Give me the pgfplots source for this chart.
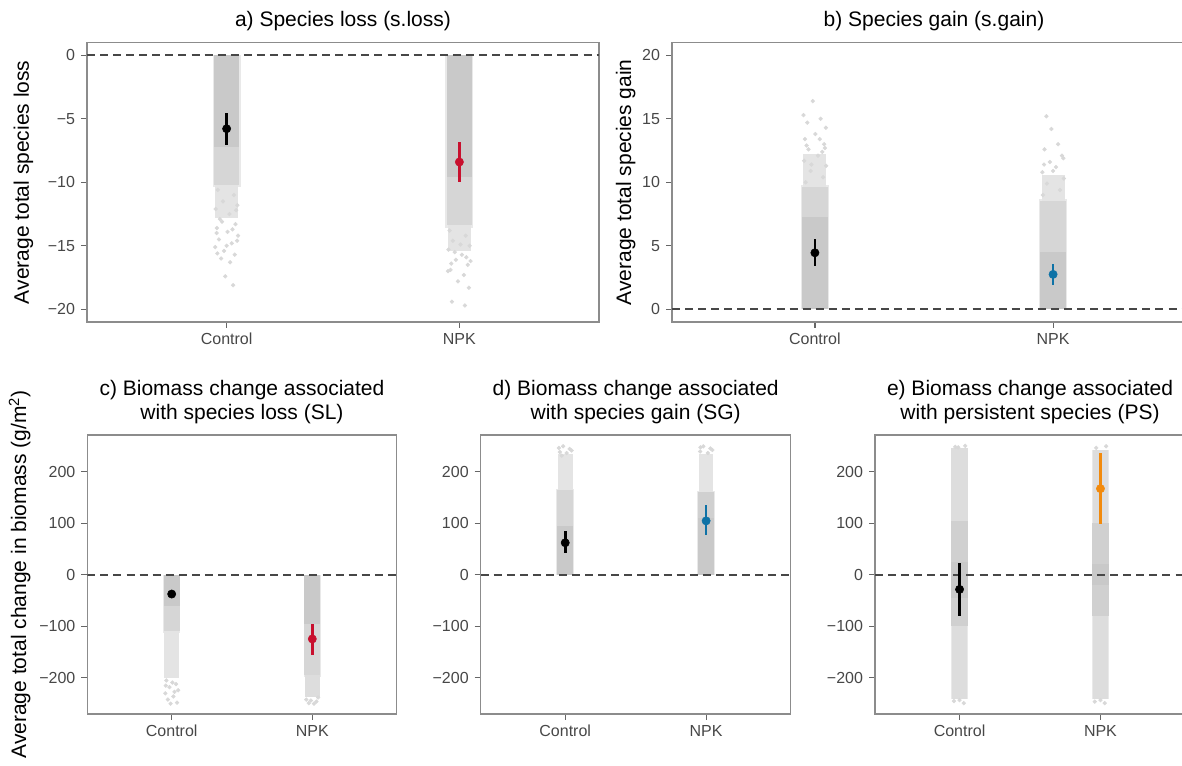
\documentclass[border=0pt]{standalone}
\usepackage{fontspec}
\setmainfont{Liberation Sans}
\usepackage{pgfplots}
\pgfplotsset{compat=1.18}
\definecolor{gA}{HTML}{C9C9C9}
\definecolor{gB}{HTML}{D6D6D6}
\definecolor{gC}{HTML}{E4E4E4}
\definecolor{gD}{HTML}{D0D0D0}
\definecolor{gE}{HTML}{DDDDDD}
\definecolor{gF}{HTML}{E9E9E9}
\definecolor{ptc}{HTML}{D8D8D8}
\definecolor{cred}{HTML}{C8102E}
\definecolor{cblue}{HTML}{0E72A6}
\definecolor{corange}{HTML}{F28A0C}
\newcommand{\tickfont}{\fontsize{12}{14}\selectfont}
\newcommand{\labfont}{\fontsize{15.75}{17.8}\selectfont}
\newcommand{\band}[5]{\addplot[draw=none, fill=#5, forget plot] coordinates {(#1,#3) (#2,#3) (#2,#4) (#1,#4)};}
\pgfplotsset{
  panel/.style={
    scale only axis, anchor=south west,
    xmin=0.4, xmax=2.6, xtick={1,2}, xticklabels={Control,NPK},
    xtick pos=bottom, ytick pos=left, tick align=outside,
    major tick length=4.5pt,
    axis line style={draw=black!45, line width=0.9pt},
    tick style={draw=black!60, line width=0.9pt},
    tick label style={font=\tickfont, text=black!72, inner sep=0pt},
    xticklabel shift=3.75pt, yticklabel shift=4.3pt,
    label style={font=\labfont},
    ylabel style={anchor=base},
    title style={font=\labfont, align=center, at={(axis description cs:0.5,1)}, anchor=south, inner sep=0pt, yshift=2.5pt},
  },
  jit/.style={only marks, mark=*, mark size=1.4pt, color=ptc, forget plot},
  zero/.style={draw=black!72, line width=1.3pt, dash pattern=on 6pt off 3.8pt, forget plot},
  est/.style={only marks, mark=*, mark size=3.1pt, color=#1, mark options={fill=#1, draw=#1},
    error bars/.cd, y dir=both, y explicit, error mark=none,
    error bar style={line width=2pt, color=#1}},
}
\begin{document}
\begin{tikzpicture}
% ---------- a) ----------
\begin{axis}[panel, at={(65.25pt,333pt)}, width=384pt, height=209.5pt,
  ymin=-21, ymax=1, ytick={-20,-15,-10,-5,0}, yticklabels={−20,−15,−10,−5,0},
  ylabel={Average total species loss}, ylabel style={at={(axis description cs:-0.1133,0.5)}},
  title={a) Species loss (s.loss)}]
\band{0.940}{1.060}{0}{-10.4}{gF}
\band{0.945}{1.055}{0}{-7.2}{gA}
\band{0.946}{1.054}{-7.2}{-10.2}{gB}
\band{0.952}{1.048}{-10.2}{-12.8}{gC}
\band{1.940}{2.060}{0}{-13.6}{gF}
\band{1.945}{2.055}{0}{-9.6}{gA}
\band{1.946}{2.054}{-9.6}{-13.4}{gB}
\band{1.952}{2.048}{-13.4}{-15.4}{gC}
\addplot[jit] coordinates {(0.962,-10.6) (1.031,-11.0) (0.984,-11.5) (1.046,-11.8) (0.953,-12.1) (1.012,-12.5) (0.971,-12.9) (1.038,-13.3) (0.958,-13.6) (1.004,-13.9) (1.049,-14.2) (0.967,-14.5) (1.022,-14.8) (0.951,-15.1) (0.989,-15.4) (1.035,-15.7) (0.976,-16.0) (1.015,-16.3) (0.994,-17.4) (1.028,-18.1) (0.957,-14.0) (1.041,-12.2) (0.980,-13.1) (1.025,-13.7) (0.960,-15.6) (1.045,-14.6) (1.000,-15.0)};
\addplot[jit] coordinates {(1.958,-13.8) (2.027,-14.2) (1.972,-14.6) (2.044,-15.0) (1.953,-15.3) (2.011,-15.7) (1.985,-16.1) (2.036,-16.5) (1.962,-16.9) (2.019,-17.3) (1.994,-17.8) (2.041,-18.3) (1.968,-19.4) (2.024,-19.7) (1.951,-17.0) (2.005,-14.9) (2.048,-16.2) (1.980,-15.5) (2.030,-15.9) (1.965,-16.4)};
\addplot[zero] coordinates {(0.4,0) (2.6,0)};
\addplot[est=black] coordinates {(1,-5.78) += (0,1.21) -= (0,1.28)};
\addplot[est=cred] coordinates {(2,-8.40) += (0,1.57) -= (0,1.58)};
\end{axis}
% ---------- b) ----------
\begin{axis}[panel, at={(504pt,333pt)}, width=393pt, height=209.5pt,
  ymin=-1, ymax=21, ytick={0,5,10,15,20}, yticklabels={0,5,10,15,20},
  ylabel={Average total species gain}, ylabel style={at={(axis description cs:-0.0782,0.5)}},
  title={b) Species gain (s.gain)}]
\band{0.940}{1.060}{0}{9.8}{gF}
\band{0.945}{1.055}{0}{7.3}{gA}
\band{0.946}{1.054}{7.3}{9.6}{gB}
\band{0.952}{1.048}{9.6}{12.2}{gC}
\band{1.940}{2.060}{0}{8.7}{gF}
\band{1.945}{2.055}{0}{4.5}{gA}
\band{1.946}{2.054}{4.5}{8.5}{gB}
\band{1.952}{2.048}{8.5}{10.6}{gC}
\addplot[jit] coordinates {(0.961,10.0) (1.034,10.4) (0.982,10.9) (1.047,11.3) (0.955,11.7) (1.013,12.1) (0.973,12.6) (1.039,13.0) (0.958,13.4) (1.002,13.8) (1.046,14.3) (0.968,14.7) (1.024,15.0) (0.952,15.3) (0.991,16.4) (1.031,12.4) (0.985,11.4) (1.020,13.4) (0.965,12.9) (1.042,12.7)};
\addplot[jit] coordinates {(1.957,9.0) (2.029,9.4) (1.974,9.9) (2.045,10.3) (1.955,10.8) (2.012,11.2) (1.986,11.6) (2.037,12.1) (1.964,12.6) (2.021,13.0) (1.993,14.2) (1.972,15.2) (2.043,11.9) (2.000,10.9) (1.962,11.4)};
\addplot[zero] coordinates {(0.4,0) (2.6,0)};
\addplot[est=black] coordinates {(1,4.45) += (0,1.09) -= (0,1.05)};
\addplot[est=cblue] coordinates {(2,2.75) += (0,0.78) -= (0,0.84)};
\end{axis}
% ---------- c) ----------
\begin{axis}[panel, at={(65.5pt,39pt)}, width=232pt, height=209.25pt,
  ymin=-270, ymax=271, ytick={-200,-100,0,100,200}, yticklabels={−200,−100,0,100,200},
  ylabel={Average total change in biomass (g/m\textsuperscript{2})}, ylabel style={at={(axis description cs:-0.198,0.5)}},
  title={c) Biomass change associated\\with species loss (SL)}]
\band{0.938}{1.062}{0}{-112}{gF}
\band{0.942}{1.058}{0}{-60}{gA}
\band{0.943}{1.057}{-60}{-110}{gB}
\band{0.948}{1.052}{-110}{-200}{gC}
\band{1.938}{2.062}{0}{-198}{gF}
\band{1.942}{2.058}{0}{-95}{gA}
\band{1.943}{2.057}{-95}{-195}{gB}
\band{1.948}{2.052}{-195}{-238}{gE}
\addplot[jit] coordinates {(0.962,-205) (1.031,-212) (0.984,-218) (1.046,-224) (0.955,-230) (1.012,-236) (0.973,-242) (1.038,-248) (0.992,-250) (1.020,-227) (0.958,-215) (1.005,-209)};
\addplot[jit] coordinates {(1.957,-242) (2.029,-246) (1.975,-249) (2.041,-238) (1.990,-244) (2.012,-250)};
\addplot[zero] coordinates {(0.4,0) (2.6,0)};
\addplot[est=black] coordinates {(1,-37.4) += (0,6) -= (0,6)};
\addplot[est=cred] coordinates {(2,-124.5) += (0,29.5) -= (0,31.5)};
\end{axis}
% ---------- d) ----------
\begin{axis}[panel, at={(360.5pt,39pt)}, width=232.5pt, height=209.25pt,
  ymin=-270, ymax=271, ytick={-200,-100,0,100,200}, yticklabels={−200,−100,0,100,200},
  title={d) Biomass change associated\\with species gain (SG)}]
\band{0.938}{1.062}{0}{167}{gF}
\band{0.942}{1.058}{0}{95}{gA}
\band{0.943}{1.057}{95}{165}{gB}
\band{0.948}{1.052}{165}{235}{gC}
\band{1.938}{2.062}{0}{162}{gF}
\band{1.942}{2.058}{0}{110}{gA}
\band{1.943}{2.057}{110}{160}{gD}
\band{1.948}{2.052}{160}{235}{gC}
\addplot[jit] coordinates {(0.962,238) (1.031,244) (0.985,249) (1.045,241) (0.955,246) (1.010,236) (0.975,231)};
\addplot[jit] coordinates {(1.958,239) (2.030,245) (1.980,249) (2.044,242) (1.960,247) (2.012,236)};
\addplot[zero] coordinates {(0.4,0) (2.6,0)};
\addplot[est=black] coordinates {(1,62) += (0,22) -= (0,20)};
\addplot[est=cblue] coordinates {(2,104.5) += (0,31) -= (0,26.5)};
\end{axis}
% ---------- e) ----------
\begin{axis}[panel, at={(656.25pt,39pt)}, width=232.5pt, height=209.25pt,
  ymin=-270, ymax=271, ytick={-200,-100,0,100,200}, yticklabels={−200,−100,0,100,200},
  title={e) Biomass change associated\\with persistent species (PS)}]
\band{0.938}{1.062}{245}{-240}{gF}
\band{0.942}{1.058}{245}{105}{gE}
\band{0.942}{1.058}{105}{25}{gD}
\band{0.942}{1.058}{25}{-45}{gA}
\band{0.942}{1.058}{-45}{-100}{gD}
\band{0.944}{1.056}{-100}{-240}{gE}
\band{1.938}{2.062}{242}{-240}{gF}
\band{1.944}{2.056}{242}{100}{gE}
\band{1.942}{2.058}{100}{20}{gD}
\band{1.942}{2.058}{20}{-20}{gA}
\band{1.942}{2.058}{-20}{-80}{gD}
\band{1.944}{2.056}{-80}{-240}{gE}
\addplot[jit] coordinates {(0.960,-245) (1.030,-249) (1.000,-243) (0.970,248) (1.040,250) (0.990,247)};
\addplot[jit] coordinates {(1.960,-246) (2.030,-249) (2.000,-243) (1.970,246) (2.040,249)};
\addplot[zero] coordinates {(0.4,0) (2.6,0)};
\addplot[est=black] coordinates {(1,-28.4) += (0,51) -= (0,51)};
\addplot[est=corange] coordinates {(2,167) += (0,69.7) -= (0,69)};
\end{axis}
\pgfresetboundingbox
\path (0,0) rectangle (886.5pt,574.5pt);
\end{tikzpicture}
\end{document}
